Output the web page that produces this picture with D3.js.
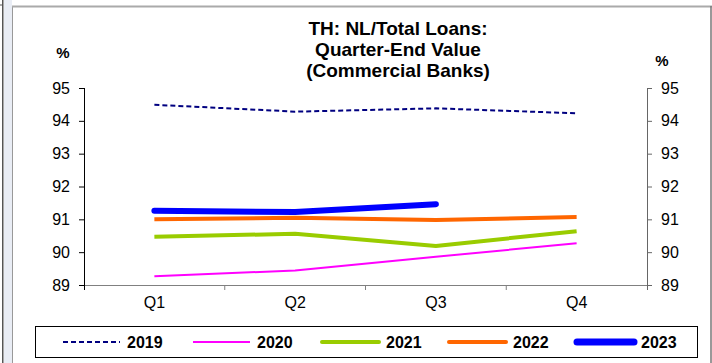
<!DOCTYPE html>
<html><head><meta charset="utf-8">
<script src="https://cdn.jsdelivr.net/npm/d3@7"></script>
<style>body{margin:0;background:#fff}svg{display:block;font-family:"Liberation Sans",Arial,sans-serif}</style>
</head><body>
<svg id="c" width="712" height="363"></svg>
<script>
const quarters = ["Q1","Q2","Q3","Q4"];
const years = ["2019","2020","2021","2022","2023"];
const v2019 = [94.49, 94.28, 94.38, 94.23];
const v2020 = [89.27, 89.44, 89.86, 90.27];
const v2021 = [90.47, 90.56, 90.19, 90.64];
const v2022 = [91.00, 91.05, 90.98, 91.07];
const v2023 = [91.26, 91.22, 91.46];
const yTicks = [89,90,91,92,93,94,95];
const titleLines = ["TH: NL/Total Loans:", "Quarter-End Value", "(Commercial Banks)"];

const seriesData = [v2019, v2020, v2021, v2022, v2023];
const colors = ["#000080","#FF00FF","#99CC00","#FF6600","#0000FF"];
const widths = [2, 2, 4, 4, 6];
const dashes = ["5,3", null, null, null, null];

const svg = d3.select("#c");
// frame
svg.append("rect").attr("x",4).attr("y",0).attr("width",8).attr("height",363).attr("fill","#e9edf5");
svg.append("rect").attr("x",2).attr("y",0).attr("width",1.5).attr("height",363).attr("fill","#555");
svg.append("line").attr("x1",12.5).attr("x2",12.5).attr("y1",6).attr("y2",363).attr("stroke","#999");
svg.append("line").attr("x1",12).attr("x2",712).attr("y1",6.5).attr("y2",6.5).attr("stroke","#aaa").attr("stroke-width",2);
svg.append("line").attr("x1",711).attr("x2",711).attr("y1",6).attr("y2",363).attr("stroke","#777").attr("stroke-width",1.5);
svg.append("line").attr("x1",0).attr("x2",3).attr("y1",5).attr("y2",5).attr("stroke","#555");

const x = d3.scaleBand().domain(quarters).range([84,647]);
const y = d3.scaleLinear().domain([89,95]).range([285,88]);

// title
svg.append("g").selectAll("text").data(titleLines).join("text")
  .attr("x",398).attr("y",(d,i)=>35+i*21).attr("text-anchor","middle")
  .attr("font-size",19).attr("font-weight","bold").attr("fill","#000").text(d=>d);

svg.append("text").attr("x",63).attr("y",58).attr("text-anchor","middle").attr("font-size",15).attr("font-weight","bold").text("%");
svg.append("text").attr("x",662).attr("y",66).attr("text-anchor","middle").attr("font-size",15).attr("font-weight","bold").text("%");

// bottom axis
const xb = svg.append("g").attr("transform","translate(0,285)")
  .call(d3.axisBottom(x).tickSize(0).tickPadding(12));
xb.select(".domain").attr("stroke","#808080").attr("d","M79,0.5H652");
xb.selectAll("text").attr("font-size",16).attr("fill","#000").attr("font-family","Liberation Sans, Arial, sans-serif");
const bounds = quarters.map(q=>x(q)).concat([x.range()[1]]);
svg.append("g").selectAll("line").data(bounds.slice(1,-1)).join("line")
  .attr("x1",d=>d).attr("x2",d=>d).attr("y1",285).attr("y2",290).attr("stroke","#808080");

// left axis
const yl = svg.append("g").attr("transform","translate(84,0)")
  .call(d3.axisLeft(y).tickValues(yTicks).tickSize(5).tickSizeOuter(0).tickPadding(9).tickFormat(d3.format("d")));
yl.select(".domain").attr("stroke","#000").attr("d","M0.5,88V290");
yl.selectAll(".tick line").attr("stroke","#000");
yl.selectAll("text").attr("font-size",16).attr("fill","#000").attr("font-family","Liberation Sans, Arial, sans-serif");

// right axis
const yr = svg.append("g").attr("transform","translate(647,0)")
  .call(d3.axisRight(y).tickValues(yTicks).tickSize(5).tickSizeOuter(0).tickPadding(9).tickFormat(d3.format("d")));
yr.select(".domain").attr("stroke","#666").attr("d","M0.5,88V290");
yr.selectAll(".tick line").attr("stroke","#666");
yr.selectAll("text").attr("font-size",16).attr("fill","#000").attr("font-family","Liberation Sans, Arial, sans-serif");

// lines
const line = d3.line().x((d,i)=>x(quarters[i])+x.bandwidth()/2).y(d=>y(d));
seriesData.forEach((s,k)=>{
  svg.append("path").datum(s).attr("d",line).attr("fill","none")
    .attr("stroke",colors[k]).attr("stroke-width",widths[k])
    .attr("stroke-dasharray",dashes[k]).attr("stroke-linecap", k===4?"round":"butt")
    .attr("stroke-linejoin","round");
});

// legend
svg.append("rect").attr("x",35.5).attr("y",326.5).attr("width",662).attr("height",31).attr("fill","#fff").attr("stroke","#000");
const lx = [63,193,322,449,577];
const lg = svg.append("g").selectAll("g").data(years).join("g").attr("transform",(d,i)=>`translate(${lx[i]},342)`);
lg.append("line").attr("x1",0).attr("x2",57).attr("y1",0).attr("y2",0)
  .attr("stroke",(d,i)=>colors[i]).attr("stroke-width",(d,i)=>widths[i]+ (i===4?1:0))
  .attr("stroke-dasharray",(d,i)=>dashes[i]).attr("stroke-linecap",(d,i)=>i>=2?"round":"butt");
lg.append("text").attr("x",64).attr("y",6).attr("font-size",16).attr("font-weight","bold").text(d=>d);
</script>
</body></html>
